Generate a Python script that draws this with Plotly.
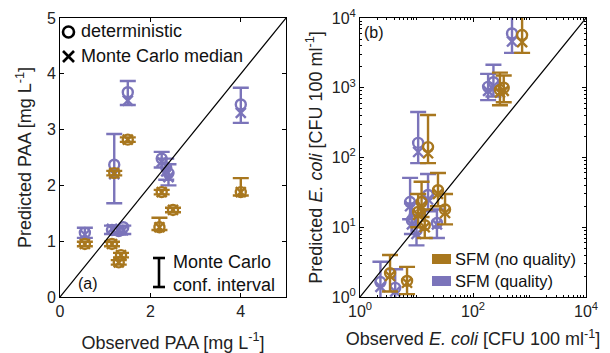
import plotly.graph_objects as go

PURPLE = "#7B74BA"
BROWN = "#A8771E"
FONT = "Liberation Sans, Arial, sans-serif"

# ---- Panel (a): PAA [mg/L] ----
# SFM (quality)
paa_obs_q = [0.55, 1.20, 1.50, 4.00, 1.15, 1.30, 1.40, 2.25, 2.35, 2.40]
paa_det_q = [1.15, 2.37, 3.67, 3.45, 1.20, 1.18, 1.25, 2.48, 2.32, 2.22]
paa_med_q = [1.12, 2.20, 3.52, 3.30, 1.22, 1.20, 1.20, 2.42, 2.25, 2.15]
paa_lo_q = [1.06, 1.68, 3.44, 3.12, 1.13, 1.12, 1.13, 2.32, 2.10, 2.00]
paa_hi_q = [1.24, 2.92, 3.87, 3.75, 1.28, 1.27, 1.28, 2.60, 2.48, 2.38]
# SFM (no quality)
paa_obs_n = [0.55, 1.20, 1.50, 4.00, 1.15, 1.30, 1.35, 2.25, 2.50, 2.20]
paa_det_n = [0.95, 2.22, 2.82, 1.88, 0.95, 0.62, 0.75, 1.88, 1.56, 1.25]
paa_med_n = [0.95, 2.22, 2.82, 1.88, 0.95, 0.62, 0.75, 1.88, 1.56, 1.25]
paa_lo_n = [0.91, 2.18, 2.78, 1.82, 0.91, 0.58, 0.71, 1.84, 1.52, 1.20]
paa_hi_n = [0.99, 2.26, 2.86, 2.13, 0.99, 0.66, 0.79, 1.92, 1.60, 1.42]

# ---- Panel (b): E. coli [CFU/100 ml] ----
eco_obs_q = [490, 185, 230, 10.7, 7.7, 16, 8.3, 10, 23, 2.3, 4.2]
eco_det_q = [6000, 1030, 1200, 162, 23, 29, 12.6, 9, 11.5, 1.64, 1.35]
eco_med_q = [4600, 900, 1050, 120, 20, 25, 11, 8, 11, 1.4, 1.2]
eco_lo_q = [3160, 665, 750, 83, 13, 17, 8, 5.5, 7, 0.8, 0.7]
eco_hi_q = [15000, 1580, 2140, 450, 51, 58, 22, 15, 18, 3.2, 2.5]
eco_obs_n = [740, 300, 350, 16, 24, 12.3, 32, 14, 10.7, 3.4, 6.8]
eco_det_n = [5700, 930, 1000, 141, 34, 23, 18, 10.7, 16.6, 2.2, 1.7]
eco_med_n = [4500, 850, 900, 115, 30, 20, 16, 10, 15, 2.0, 1.6]
eco_lo_n = [3160, 560, 620, 83, 20, 14, 11, 7, 10, 1.2, 1.1]
eco_hi_n = [15000, 1650, 1500, 407, 60, 45, 30, 18, 30, 4.0, 2.7]

W, H = 610, 353
ML, MR, MT, MB = 60, 24, 18, 56
PW, PH = W - ML - MR, H - MT - MB

fig = go.Figure()


def add_series(obs, det, med, lo, hi, color, xa, ya):
    plus = [h - m for h, m in zip(hi, med)]
    minus = [m - l for m, l in zip(med, lo)]
    fig.add_trace(go.Scatter(
        x=obs, y=med, mode="markers", xaxis=xa, yaxis=ya, cliponaxis=True,
        marker=dict(symbol="x-thin-open", size=10, color=color,
                    line=dict(color=color, width=2.4)),
        error_y=dict(type="data", array=plus, arrayminus=minus,
                     color=color, thickness=2.4, width=8),
        showlegend=False, hoverinfo="skip"))
    fig.add_trace(go.Scatter(
        x=obs, y=det, mode="markers", xaxis=xa, yaxis=ya,
        marker=dict(symbol="circle-open", size=10, color=color,
                    line=dict(color=color, width=2.4)),
        showlegend=False, hoverinfo="skip"))


add_series(paa_obs_q, paa_det_q, paa_med_q, paa_lo_q, paa_hi_q, PURPLE, "x", "y")
add_series(paa_obs_n, paa_det_n, paa_med_n, paa_lo_n, paa_hi_n, BROWN, "x", "y")
add_series(eco_obs_q, eco_det_q, eco_med_q, eco_lo_q, eco_hi_q, PURPLE, "x2", "y2")
add_series(eco_obs_n, eco_det_n, eco_med_n, eco_lo_n, eco_hi_n, BROWN, "x2", "y2")

# 1:1 lines
fig.add_trace(go.Scatter(x=[0, 5], y=[0, 5], mode="lines", xaxis="x", yaxis="y",
                         line=dict(color="black", width=1.2),
                         showlegend=False, hoverinfo="skip"))
fig.add_trace(go.Scatter(x=[1, 1e4], y=[1, 1e4], mode="lines", xaxis="x2", yaxis="y2",
                         line=dict(color="black", width=1.2),
                         showlegend=False, hoverinfo="skip"))

ax_common = dict(showline=True, linecolor="black", linewidth=1, mirror="ticks",
                 ticks="inside", ticklen=4, tickcolor="black", showgrid=False,
                 zeroline=False, automargin=False,
                 tickfont=dict(family=FONT, size=16, color="#222"))
TFONT = dict(family=FONT, size=18, color="#222")

fig.update_layout(
    width=W, height=H, margin=dict(l=ML, r=MR, t=MT, b=MB),
    paper_bgcolor="white", plot_bgcolor="white",
    font=dict(family=FONT, color="#222"),
    xaxis=dict(ax_common, domain=[0, 226 / PW], range=[0, 5],
               tickvals=[0, 2, 4], anchor="y",
               title=dict(text="Observed PAA [mg L<sup>-1</sup>]", font=TFONT, standoff=17)),
    yaxis=dict(ax_common, domain=[0, 1], range=[0, 5], dtick=1, anchor="x",
               title=dict(text="Predicted PAA [mg L<sup>-1</sup>]", font=TFONT, standoff=10)),
    xaxis2=dict(ax_common, domain=[300 / PW, 1], type="log", range=[0, 4],
                tickvals=[1, 100, 10000],
                ticktext=["10<sup>0</sup>", "10<sup>2</sup>", "10<sup>4</sup>"],
                minor=dict(ticks="inside", ticklen=2, tickcolor="black", dtick="D1"),
                anchor="y2",
                title=dict(text="Observed <i>E. coli</i> [CFU 100 ml<sup>-1</sup>]",
                           font=TFONT, standoff=13)),
    yaxis2=dict(ax_common, domain=[0, 1], type="log", range=[0, 4],
                tickvals=[1, 10, 100, 1000, 10000],
                ticktext=["10<sup>0</sup>", "10<sup>1</sup>", "10<sup>2</sup>",
                          "10<sup>3</sup>", "10<sup>4</sup>"],
                minor=dict(ticks="inside", ticklen=2, tickcolor="black", dtick="D1"),
                anchor="x2",
                title=dict(text="Predicted <i>E. coli</i> [CFU 100 ml<sup>-1</sup>]",
                           font=TFONT, standoff=4)),
)


def px(x):
    return (x - ML) / PW


def py(y):
    return 1 - (y - MT) / PH


# Legend keys for panel (a)
fig.add_shape(type="circle", xref="paper", yref="paper",
              x0=px(63), x1=px(74), y0=py(37.5), y1=py(26.5),
              line=dict(color="black", width=2.6))
for (a, b, c, d) in [(63, 51, 74, 62), (63, 62, 74, 51)]:
    fig.add_shape(type="line", xref="paper", yref="paper",
                  x0=px(a), y0=py(b), x1=px(c), y1=py(d),
                  line=dict(color="black", width=2.6))
# confidence interval key
fig.add_shape(type="line", xref="paper", yref="paper",
              x0=px(159), x1=px(159), y0=py(258), y1=py(287),
              line=dict(color="black", width=2.6))
for yy in (258, 287):
    fig.add_shape(type="line", xref="paper", yref="paper",
                  x0=px(153), x1=px(165), y0=py(yy), y1=py(yy),
                  line=dict(color="black", width=2.6))
# legend patches for panel (b)
for (yy, col) in [(259, BROWN), (281, PURPLE)]:
    fig.add_shape(type="rect", xref="paper", yref="paper",
                  x0=px(432), x1=px(451), y0=py(yy + 5), y1=py(yy - 5),
                  line=dict(width=0), fillcolor=col)


def label(x, y, text, size=18, anchor="left"):
    fig.add_annotation(x=px(x), y=py(y), xref="paper", yref="paper",
                       text=text, showarrow=False, xanchor=anchor, yanchor="middle",
                       xshift=0, yshift=0, borderpad=0,
                       font=dict(family=FONT, size=size, color="#111"))


label(80, 31, "deterministic")
label(80, 56, "Monte Carlo median")
label(172, 262, "Monte Carlo")
label(172, 285, "conf. interval")
label(77, 283, "(a)", size=16)
label(363, 33, "(b)", size=16)
label(454, 259, "SFM (no quality)", size=16.5)
label(454, 281, "SFM (quality)", size=16.5)

fig.write_html("out.html")
